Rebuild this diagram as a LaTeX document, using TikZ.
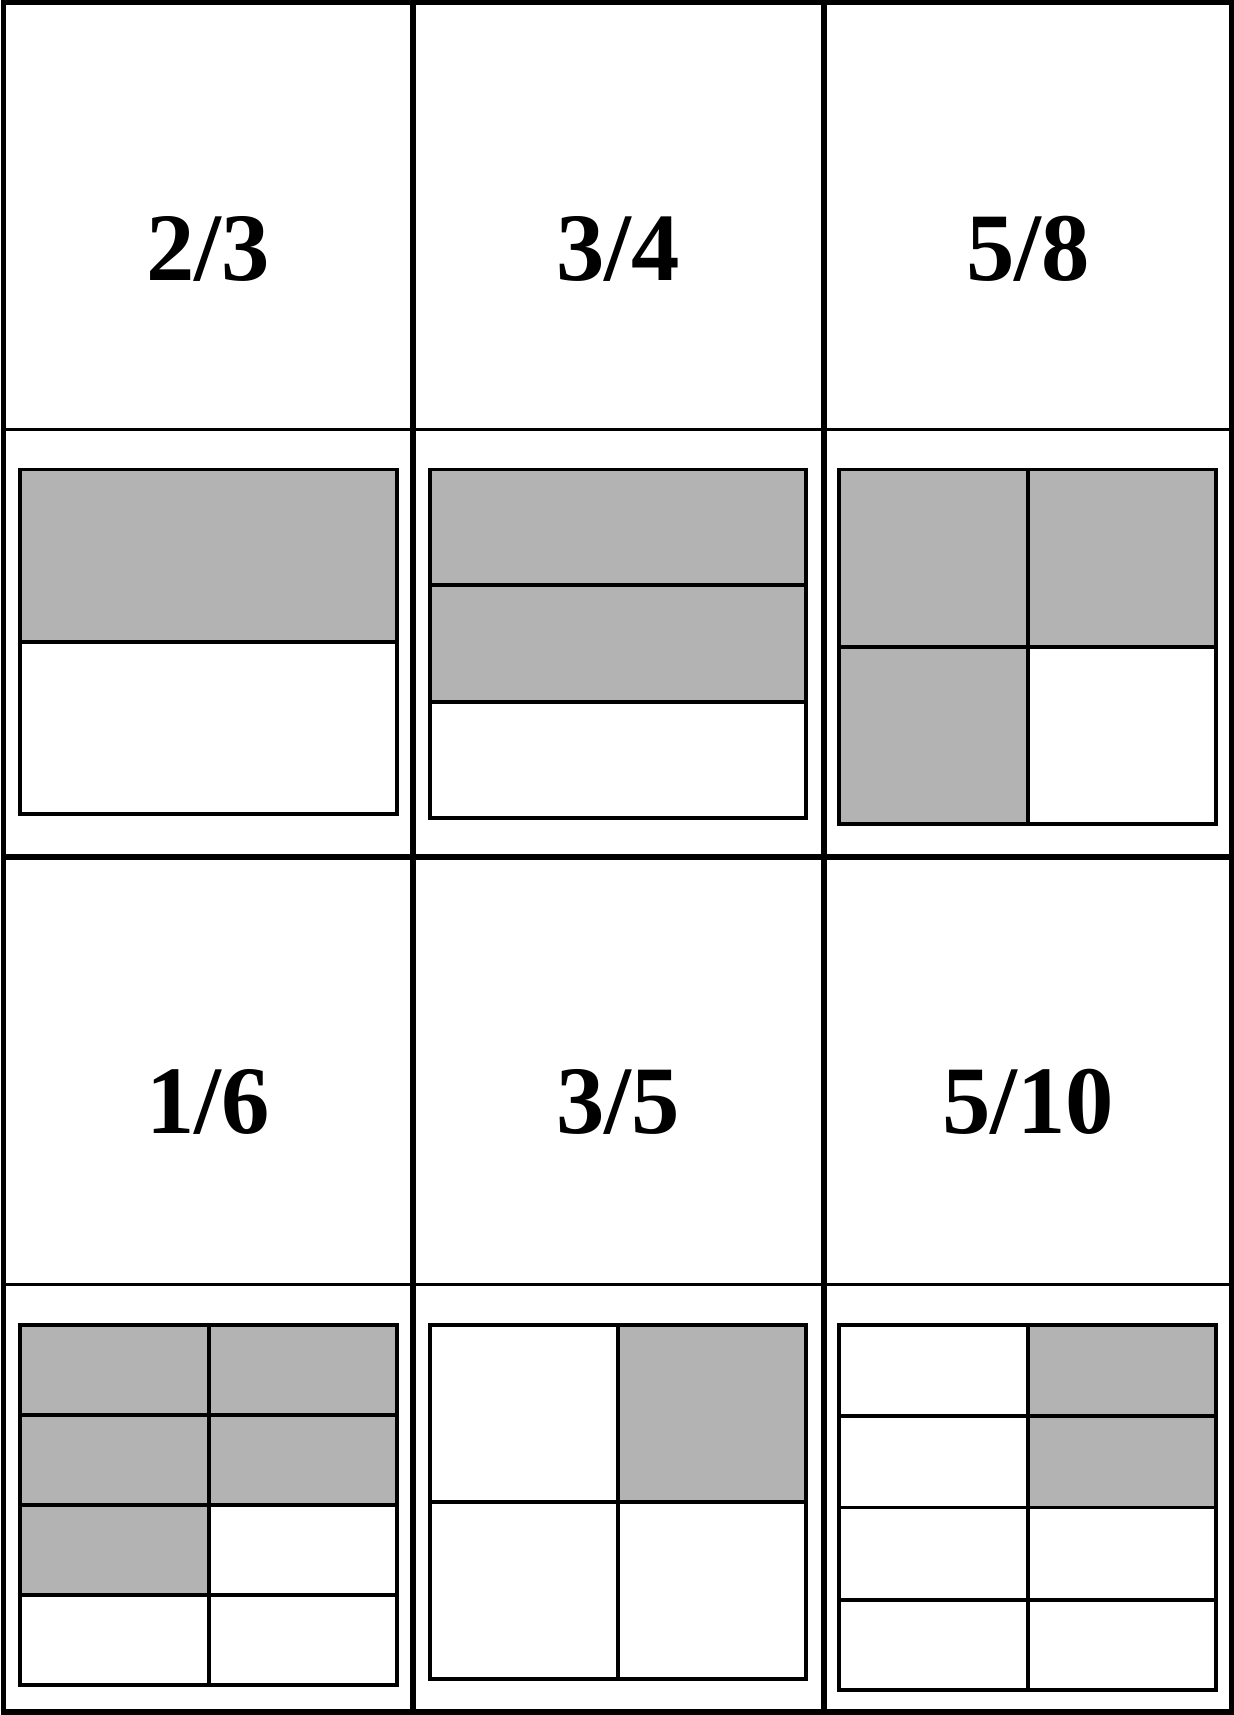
\documentclass[tikz,border=0pt]{standalone}
\usepackage{fontspec}
\setmainfont{Liberation Serif}
\definecolor{shadegray}{RGB}{179,179,179}
\tikzset{
  frac/.style={font=\fontsize{27.5}{30}\selectfont\bfseries, anchor=base, inner sep=0pt},
  shaded/.style={fill=shadegray},
  part/.style={line width=1.1pt},
  frame/.style={line width=1.7pt},
  rule/.style={line width=0.9pt}
}

\begin{document}
\begin{tikzpicture}[x=0.01cm, y=-0.01cm]
    \useasboundingbox (0,0) rectangle (1234,1715);

    % outer frame and grid
    \draw[frame] (3.5,2.5) rectangle (1231.5,1711.5);
    \draw[frame] (413,2.5) -- (413,1711.5);
    \draw[frame] (823.5,2.5) -- (823.5,1711.5);
    \draw[frame] (3.5,856.5) -- (1231.5,856.5);
    \draw[rule] (3.5,429.5) -- (1231.5,429.5);
    \draw[rule] (3.5,1284.5) -- (1231.5,1284.5);

    % fractions
    \node[frac] (f23) at (208,280) {2/3};
    \node[frac] (f34) at (618,280) {3/4};
    \node[frac] (f58) at (1028,280) {5/8};
    \node[frac] (f16) at (208,1133) {1/6};
    \node[frac] (f35) at (618,1133) {3/5};
    \node[frac] (f510) at (1028,1133) {5/10};

    % box 1: halves
    \fill[shaded] (20,469.5) rectangle (397,642);
    \draw[part] (20,469.5) rectangle (397,814);
    \draw[part] (20,642) -- (397,642);

    % box 2: thirds
    \fill[shaded] (430,469.5) rectangle (806,702);
    \draw[part] (430,469.5) rectangle (806,818);
    \foreach \y in {585,702}
        \draw[part] (430,\y) -- (806,\y);

    % box 3: quarters
    \fill[shaded] (839,469.5) rectangle (1216,647);
    \fill[shaded] (839,647) rectangle (1028,824);
    \draw[part] (839,469.5) rectangle (1216,824);
    \draw[part] (1028,469.5) -- (1028,824);
    \draw[part] (839,647) -- (1216,647);

    % box 4: eighths
    \fill[shaded] (20,1325) rectangle (397,1505);
    \fill[shaded] (20,1505) rectangle (209,1595);
    \draw[part] (20,1325) rectangle (397,1685);
    \draw[part] (209,1325) -- (209,1685);
    \foreach \y in {1415,1505,1595}
        \draw[part] (20,\y) -- (397,\y);

    % box 5: quarters
    \fill[shaded] (618,1325) rectangle (806,1502);
    \draw[part] (430,1325) rectangle (806,1679);
    \draw[part] (618,1325) -- (618,1679);
    \draw[part] (430,1502) -- (806,1502);

    % box 6: eighths
    \fill[shaded] (1028,1325) rectangle (1216,1507.5);
    \draw[part] (839,1325) rectangle (1216,1690);
    \draw[part] (1028,1325) -- (1028,1690);
    \foreach \y in {1416,1507.5,1600}
        \draw[part] (839,\y) -- (1216,\y);
\end{tikzpicture}
\end{document}
